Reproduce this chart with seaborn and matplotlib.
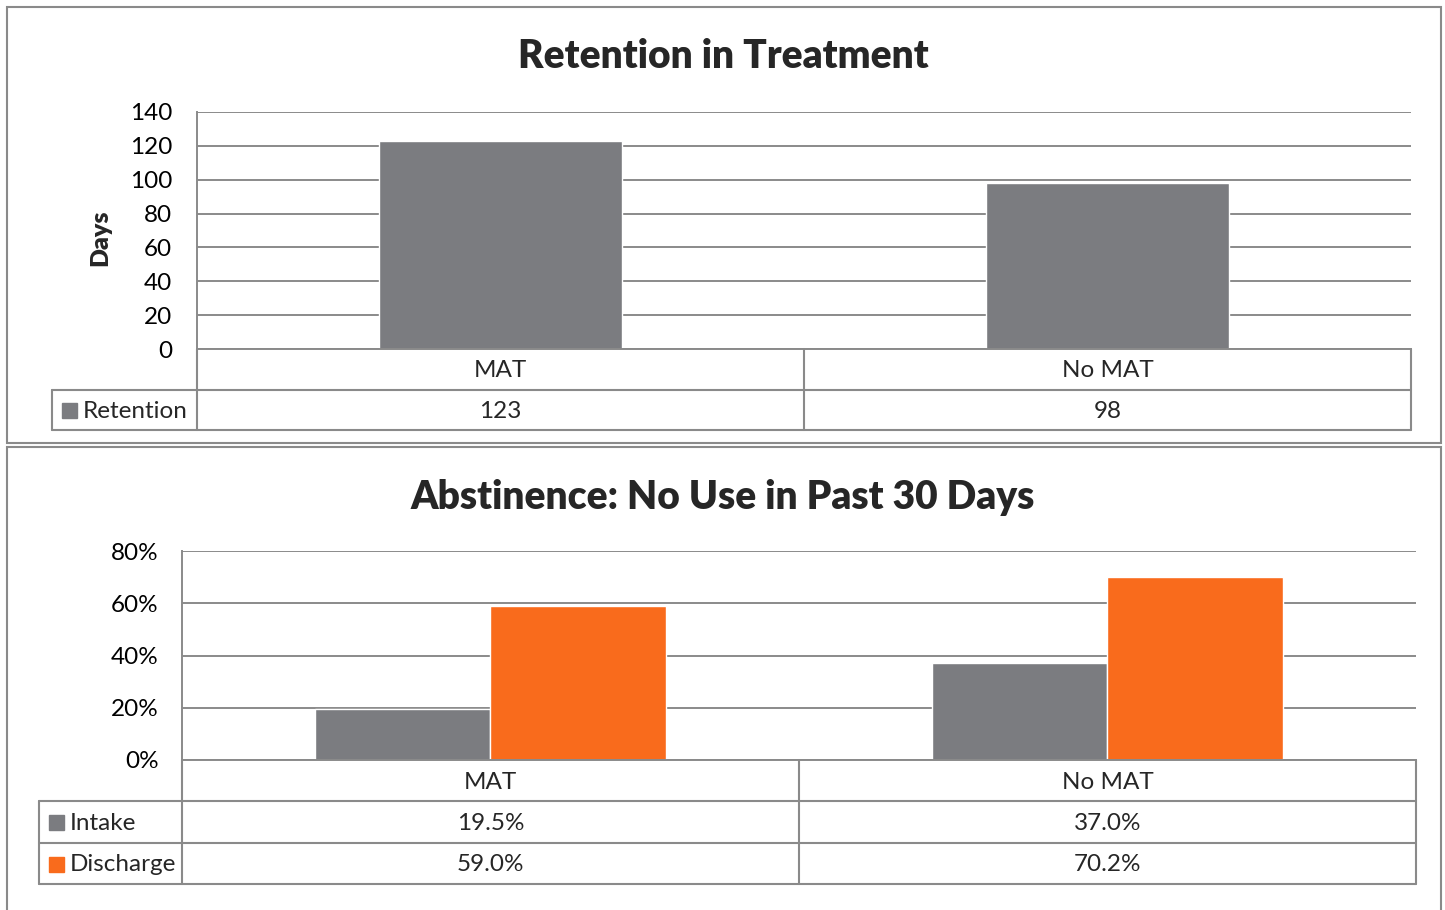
"""Retention and abstinence charts with Excel-style data tables."""
import matplotlib.pyplot as plt
import pandas as pd
import seaborn as sns
from matplotlib.lines import Line2D
from matplotlib.patches import Rectangle

# Chart data
categories = ["MAT", "No MAT"]
retention_days = [123, 98]
intake_pct = [19.5, 37.0]
discharge_pct = [59.0, 70.2]

retention_ticks = [0, 20, 40, 60, 80, 100, 120, 140]
abstinence_ticks = [0, 20, 40, 60, 80]

GRAY = "#7b7c80"
ORANGE = "#f96b1c"
LINE = "#8a8a8a"
W, H = 1445, 910
FS = 17.5

sns.set_theme(style="white")
plt.rcParams["font.family"] = ["Lato", "DejaVu Sans"]


def box(left, top, right, bottom):
    """Convert pixel box (from top-left) to figure fraction rect."""
    return [left / W, 1 - bottom / H, (right - left) / W, (bottom - top) / H]


def style_axes(ax, ticks, fmt, pad):
    ax.set_xlim(-0.5, 1.5)
    ax.set_ylim(ticks[0], ticks[-1])
    ax.set_yticks(ticks)
    ax.set_yticklabels([fmt.format(t) for t in ticks])
    ax.set_xticks([])
    ax.set_xlabel("")
    ax.set_ylabel("")
    ax.yaxis.grid(True, color=LINE, linewidth=1.4)
    ax.set_axisbelow(True)
    ax.tick_params(axis="y", length=0, pad=pad, labelsize=FS, colors="black")
    for side in ["top", "right"]:
        ax.spines[side].set_visible(False)
    for side in ["left", "bottom"]:
        ax.spines[side].set_color(LINE)
        ax.spines[side].set_linewidth(1.4)


def draw_data_table(ax, rows, row_px, left_px):
    """Draw a data table under the axes; rows are (name, color, labels)."""
    ax_h = ax.get_position().height * H
    ax_w = ax.get_position().width * W
    fy = lambda px: -px / ax_h
    fx = lambda px: -px / ax_w
    xt = ax.get_xaxis_transform()
    n = len(rows)
    bottom = fy(row_px * (n + 1))
    kw = dict(color=LINE, linewidth=1.5, clip_on=False)

    # vertical lines at category boundaries
    for xb in [-0.5, 0.5, 1.5]:
        ax.add_line(Line2D([xb, xb], [0, bottom], transform=xt, **kw))
    # left label column
    ax.add_line(Line2D([fx(left_px), fx(left_px)], [fy(row_px), bottom],
                       transform=ax.transAxes, **kw))
    for r in range(1, n + 2):
        ax.add_line(Line2D([fx(left_px), 1], [fy(row_px * r)] * 2,
                           transform=ax.transAxes, **kw))

    # category labels
    for i, cat in enumerate(categories):
        ax.text(i, fy(row_px * 0.5 + 1.5), cat, transform=xt, ha="center",
                va="center", fontsize=FS)
    # series rows
    for r, (name, color, labels) in enumerate(rows):
        yc = fy(row_px * (r + 1.5) + 1.5)
        ax.add_patch(Rectangle((fx(left_px - 10), yc - fy(-7)),
                               15 / ax_w, 15 / ax_h, transform=ax.transAxes,
                               color=color, clip_on=False))
        ax.text(fx(left_px - 31), yc, name, transform=ax.transAxes,
                ha="left", va="center", fontsize=FS)
        for i, lab in enumerate(labels):
            ax.text(i, yc, lab, transform=xt, ha="center", va="center",
                    fontsize=FS)


fig = plt.figure(figsize=(W / 100, H / 100), dpi=100)

# Panel borders
fig.add_artist(Rectangle((7 / W, 1 - 443 / H), 1434 / W, 436 / H,
                         transform=fig.transFigure, fill=False,
                         edgecolor=LINE, linewidth=1.5))
fig.add_artist(Rectangle((7 / W, 1 - 930 / H), 1434 / W, 483 / H,
                         transform=fig.transFigure, fill=False,
                         edgecolor=LINE, linewidth=1.5))

# Top chart: retention
ax1 = fig.add_axes(box(197, 112, 1411, 349))
sns.barplot(x=categories, y=retention_days, color=GRAY, saturation=1,
            width=0.4, ax=ax1)
style_axes(ax1, retention_ticks, "{}", 18)
draw_data_table(ax1, [("Retention", GRAY, [str(v) for v in retention_days])],
                40.5, 145)
fig.text(723 / W, 1 - 56 / H, "Retention in Treatment", ha="center",
         va="center", fontsize=28, fontweight="heavy")
fig.text(100 / W, 1 - 238 / H, "Days", ha="center", va="center",
         rotation=90, fontsize=18, fontweight="heavy")

# Bottom chart: abstinence
abst = pd.DataFrame({
    "category": categories * 2,
    "series": ["Intake"] * 2 + ["Discharge"] * 2,
    "value": intake_pct + discharge_pct,
})
ax2 = fig.add_axes(box(182, 551, 1416, 760))
sns.barplot(data=abst, x="category", y="value", hue="series",
            palette=[GRAY, ORANGE], saturation=1, width=0.57, ax=ax2,
            legend=False)
style_axes(ax2, abstinence_ticks, "{}%", 17)
draw_data_table(ax2, [
    ("Intake", GRAY, [f"{v:.1f}%" for v in intake_pct]),
    ("Discharge", ORANGE, [f"{v:.1f}%" for v in discharge_pct]),
], 41.3, 143)
fig.text(723 / W, 1 - 497 / H, "Abstinence: No Use in Past 30 Days",
         ha="center", va="center", fontsize=28, fontweight="heavy")

fig.savefig("out.png", dpi=100)
